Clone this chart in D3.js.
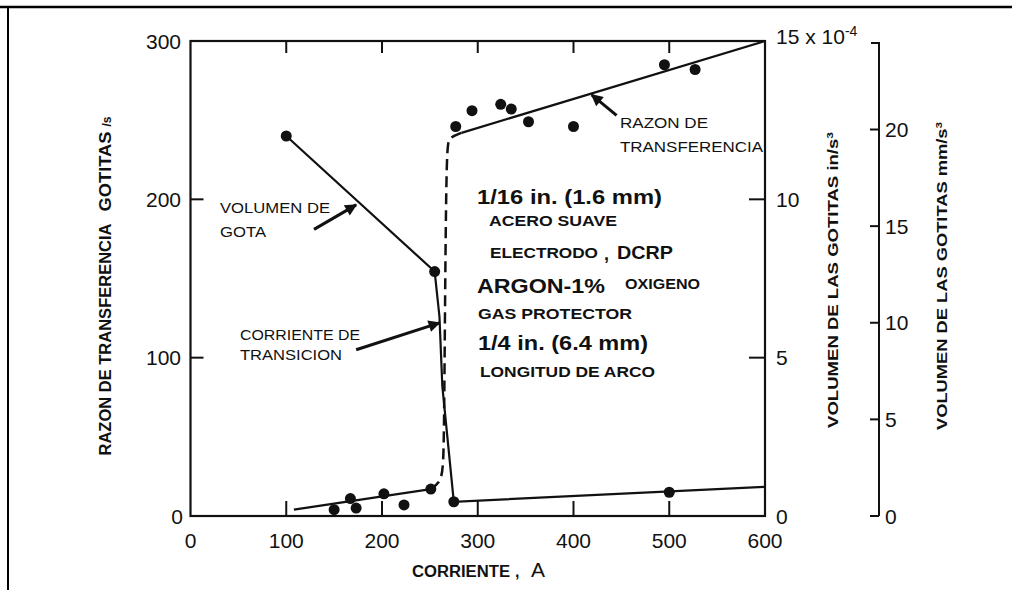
<!DOCTYPE html>
<html><head><meta charset="utf-8">
<script src="https://cdn.jsdelivr.net/npm/d3@7"></script>
<style>
html,body{margin:0;padding:0;background:#fff;}
svg{display:block;}
text{font-family:"Liberation Sans",Arial,sans-serif;fill:#111;}
</style></head>
<body>
<svg id="c" width="1012" height="590"></svg>
<script>
// ---------- data ----------
const currentTicks = [0,100,200,300,400,500,600];
const rateTicks = [0,100,200,300];
const volInTicks = [0,5,10,15];
const volMmTicks = [0,5,10,15,20];
const innerTicks = [100,200,300,400,500];

// transfer rate (drops/s) vs current (A)
const rateLowPts  = [[150,4],[167,11],[173,5],[202,14],[223,7],[251,17]];
const rateHighPts = [[277,246],[294,256],[324,260],[335,257],[353,249],[400,246],[495,285],[527,282]];
const rateLowLine  = [[108,4],[251,17]];
const rateTransLine = [[251,17],[260,21],[264,28],[265,60],[267,234],[270,239],[283,242]];
const rateHighLine = [[283,242],[600,300]];

// drop volume (x10^-4 in^3/s) vs current (A)
const volPts  = [[100,12.0],[255,7.72],[275,0.45],[500,0.75]];
const volLine = [[100,12.0],[255,7.72],[260,6.3],[263,4.1],[275,0.45],[600,0.92]];

const mmPerIn3 = 16.387; // x10^-4 in^3 -> mm^3

// annotation arrows [tail, tip] in (A, drops/s)
const arrowRazon = [[445,253],[419,266]];
const arrowVol   = [[129,181],[173,196.5]];
const arrowTrans = [[173,105],[260,122]];

// ---------- drawing ----------
const svg = d3.select("#c");
const x = d3.scaleLinear().domain([0,600]).range([190.5,765]);
const y = d3.scaleLinear().domain([0,300]).range([516,41]);
const yV = d3.scaleLinear().domain([0,15]).range([516,41]);
const yMm = d3.scaleLinear().domain([0,15*mmPerIn3/10]).range([516,41]);

// outer frame (top & left)
svg.append("line").attr("x1",0).attr("x2",1012).attr("y1",7).attr("y2",7).attr("stroke","#000").attr("stroke-width",2.5);
svg.append("line").attr("x1",8).attr("x2",8).attr("y1",6).attr("y2",590).attr("stroke","#000").attr("stroke-width",2);

// plot box
svg.append("rect").attr("x",x(0)).attr("y",y(300)).attr("width",x(600)-x(0)).attr("height",y(0)-y(300))
  .attr("fill","none").attr("stroke","#111").attr("stroke-width",2.2);

const g = svg.append("g");
innerTicks.forEach(t=>{
  g.append("line").attr("x1",x(t)).attr("x2",x(t)).attr("y1",y(300)).attr("y2",y(300)+12).attr("stroke","#111").attr("stroke-width",2);
  g.append("line").attr("x1",x(t)).attr("x2",x(t)).attr("y1",y(0)).attr("y2",y(0)-15).attr("stroke","#111").attr("stroke-width",2);
});
[100,200].forEach(t=>{
  g.append("line").attr("x1",x(0)).attr("x2",x(0)+13).attr("y1",y(t)).attr("y2",y(t)).attr("stroke","#111").attr("stroke-width",2);
});
[5,10].forEach(t=>{
  g.append("line").attr("x1",x(600)).attr("x2",x(600)-16).attr("y1",yV(t)).attr("y2",yV(t)).attr("stroke","#111").attr("stroke-width",2);
});

// left tick labels
rateTicks.forEach(t=>{
  svg.append("text").attr("x",t===0?183:181).attr("y",y(t)).attr("dy","0.36em").attr("text-anchor","end")
    .attr("font-size",21).text(t);
});
// bottom tick labels
currentTicks.forEach(t=>{
  svg.append("text").attr("x",x(t)).attr("y",548).attr("text-anchor","middle").attr("font-size",21).text(t);
});
// right inner labels
volInTicks.forEach(t=>{
  const tx = svg.append("text").attr("x",776).attr("y",yV(t)).attr("dy","0.36em").attr("font-size",21);
  if(t===15){
    tx.attr("y",yV(t)-5).text("15 x 10");
    tx.append("tspan").attr("dy",-8).attr("font-size",14).text("-4");
  } else tx.text(t);
});

// second right axis (mm^3/s)
const axX = 879;
svg.append("line").attr("x1",axX).attr("x2",axX).attr("y1",yMm(yMm.domain()[1])+2).attr("y2",yMm(0)).attr("stroke","#111").attr("stroke-width",2);
svg.append("line").attr("x1",axX-8).attr("x2",axX+1).attr("y1",yMm(yMm.domain()[1])+2).attr("y2",yMm(yMm.domain()[1])+2).attr("stroke","#111").attr("stroke-width",2);
volMmTicks.forEach(t=>{
  svg.append("line").attr("x1",axX-9).attr("x2",axX).attr("y1",yMm(t)).attr("y2",yMm(t)).attr("stroke","#111").attr("stroke-width",2);
  svg.append("text").attr("x",885).attr("y",yMm(t)).attr("dy","0.36em").attr("font-size",21).text(t);
});

// axis titles
const lt = svg.append("text").attr("transform",`translate(111,${286}) rotate(-90)`).attr("text-anchor","middle")
  .attr("font-size",16).attr("font-weight","bold");
lt.append("tspan").attr("textLength",232).attr("lengthAdjust","spacingAndGlyphs").text("RAZON DE TRANSFERENCIA");
lt.append("tspan").attr("dx",12).attr("textLength",80).attr("lengthAdjust","spacingAndGlyphs").text("GOTITAS");
lt.append("tspan").attr("dx",5).attr("font-size",12).text("/s");

const rt1 = svg.append("text").attr("transform",`translate(838,280) rotate(-90)`).attr("text-anchor","middle")
  .attr("font-size",14).attr("font-weight","bold").attr("textLength",296).attr("lengthAdjust","spacingAndGlyphs");
rt1.text("VOLUMEN DE LAS GOTITAS in/s");
rt1.append("tspan").attr("font-size",9).attr("dy",-5).text("3");

const rt2 = svg.append("text").attr("transform",`translate(947,276) rotate(-90)`).attr("text-anchor","middle")
  .attr("font-size",14).attr("font-weight","bold").attr("textLength",308).attr("lengthAdjust","spacingAndGlyphs");
rt2.text("VOLUMEN DE LAS GOTITAS mm/s");
rt2.append("tspan").attr("font-size",9).attr("dy",-5).text("3");

const xt = svg.append("text").attr("x",412).attr("y",577).attr("font-size",16).attr("font-weight","bold").attr("fill","#222");
xt.append("tspan").attr("textLength",98).attr("lengthAdjust","spacingAndGlyphs").text("CORRIENTE");
xt.append("tspan").attr("x",515).text(",");
xt.append("tspan").attr("x",531).attr("font-size",21).attr("font-weight","normal").text("A");

// lines
const lineR = d3.line().x(d=>x(d[0])).y(d=>y(d[1]));
const lineV = d3.line().x(d=>x(d[0])).y(d=>yV(d[1]));
svg.append("path").attr("d",lineR(rateLowLine)).attr("fill","none").attr("stroke","#111").attr("stroke-width",2.2);
svg.append("path").attr("d",lineR(rateHighLine)).attr("fill","none").attr("stroke","#111").attr("stroke-width",2.2);
svg.append("path").attr("d",d3.line().x(d=>x(d[0])).y(d=>y(d[1])).curve(d3.curveBasis)(rateTransLine))
  .attr("fill","none").attr("stroke","#111").attr("stroke-width",2.5).attr("stroke-dasharray","11,6");
svg.append("path").attr("d",lineV(volLine)).attr("fill","none").attr("stroke","#111").attr("stroke-width",2.2);

// points
[...rateLowPts,...rateHighPts].forEach(p=>{
  svg.append("circle").attr("cx",x(p[0])).attr("cy",y(p[1])).attr("r",5.5).attr("fill","#111");
});
volPts.forEach(p=>{
  svg.append("circle").attr("cx",x(p[0])).attr("cy",yV(p[1])).attr("r",5.5).attr("fill","#111");
});

// arrows
svg.append("defs").append("marker").attr("id","ah").attr("viewBox","0 0 10 10").attr("refX",9).attr("refY",5)
  .attr("markerWidth",5).attr("markerHeight",4).attr("orient","auto").attr("markerUnits","strokeWidth")
  .append("path").attr("d","M0,0 L10,5 L0,10 z").attr("fill","#111");
[arrowRazon,arrowVol,arrowTrans].forEach(a=>{
  svg.append("line").attr("x1",x(a[0][0])).attr("y1",y(a[0][1])).attr("x2",x(a[1][0])).attr("y2",y(a[1][1]))
    .attr("stroke","#111").attr("stroke-width",3).attr("marker-end","url(#ah)");
});

// annotation labels
function lab(txt,x0,y0,fs,w,weight,fill){
  const t = svg.append("text").attr("x",x0).attr("y",y0).attr("font-size",fs).attr("fill",fill||"#333")
    .attr("font-weight",weight||"normal").text(txt);
  if(w) t.attr("textLength",w).attr("lengthAdjust","spacingAndGlyphs");
  return t;
}
lab("RAZON DE",620,128,15,88);
lab("TRANSFERENCIA",620,152,15,143);
lab("VOLUMEN DE",220,213,15,110);
lab("GOTA",220,237,15,46);
lab("CORRIENTE DE",240,340,15,120);
lab("TRANSICION",240,360,15,102);

lab("1/16 in. (1.6 mm)",477,204,20,185,"bold","#222");
lab("ACERO SUAVE",489,226,15,128,"bold","#222");
lab("ELECTRODO",490,258,15,108,"bold","#222");
lab(",",604,260,18,null,"bold","#222");
lab("DCRP",617,259,19,56,"bold","#222");
lab("ARGON-1%",477,293,21,128,"bold","#222");
lab("OXIGENO",625,289,14,75,"bold","#222");
lab("GAS PROTECTOR",478,319,15,154,"bold","#222");
lab("1/4 in. (6.4 mm)",478,350,20,170,"bold","#222");
lab("LONGITUD DE ARCO",480,377,15,175,"bold","#222");
</script>
</body></html>
